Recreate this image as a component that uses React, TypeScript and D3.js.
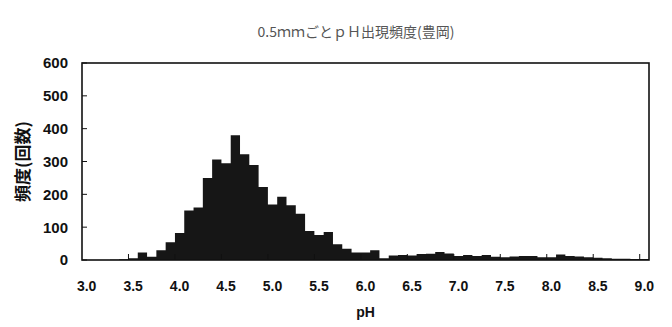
import * as d3 from 'd3'

// pH bins (0.1 step) and counts
const phBins = [
  '3.0', '3.1', '3.2', '3.3', '3.4', '3.5', '3.6', '3.7', '3.8', '3.9',
  '4.0', '4.1', '4.2', '4.3', '4.4', '4.5', '4.6', '4.7', '4.8', '4.9',
  '5.0', '5.1', '5.2', '5.3', '5.4', '5.5', '5.6', '5.7', '5.8', '5.9',
  '6.0', '6.1', '6.2', '6.3', '6.4', '6.5', '6.6', '6.7', '6.8', '6.9',
  '7.0', '7.1', '7.2', '7.3', '7.4', '7.5', '7.6', '7.7', '7.8', '7.9',
  '8.0', '8.1', '8.2', '8.3', '8.4', '8.5', '8.6', '8.7', '8.8', '8.9',
  '9.0'
]
const counts = [
  0, 0, 0, 1, 2, 5, 23, 10, 30, 54,
  82, 151, 160, 250, 306, 295, 380, 322, 289, 222,
  169, 193, 167, 141, 88, 76, 85, 48, 34, 23,
  23, 30, 5, 14, 15, 14, 18, 19, 24, 20,
  12, 15, 12, 15, 10, 8, 11, 12, 12, 8,
  8, 17, 12, 11, 8, 7, 5, 4, 4, 3,
  3
]
const xLabels = ['3.0', '3.5', '4.0', '4.5', '5.0', '5.5', '6.0', '6.5', '7.0', '7.5', '8.0', '8.5', '9.0']
const yTicks = [0, 100, 200, 300, 400, 500, 600]

const title = '0.5ｍｍごとｐＨ出現頻度(豊岡)'
const yTitle = '頻度(回数)'
const xTitle = 'pH'

export default function App() {
  const width = 672
  const height = 327
  const left = 82, right = 649, top = 63, bottom = 260

  const x = d3.scaleBand<string>().domain(phBins).range([left, right]).paddingInner(0).paddingOuter(0)
  const y = d3.scaleLinear().domain([0, 600]).range([bottom, top])
  const numFont = '"Liberation Sans", Arial, sans-serif'

  // one step outline for all bars, so no seams between neighbours
  const bw = x.bandwidth()
  const stepPts: [number, number][] = []
  phBins.forEach((b, i) => {
    stepPts.push([x(b)!, y(counts[i])])
    stepPts.push([x(b)! + bw, y(counts[i])])
  })
  const area = d3.area<[number, number]>().x(d => d[0]).y0(bottom).y1(d => d[1])

  return (
    <svg width={width} height={height} style={{ position: 'absolute', left: 0, top: 0, background: '#fff' }}>
      <rect width={width} height={height} fill="#fff" />
      <text x={356} y={37} textAnchor="middle" fontSize={14} fill="#555"
        fontFamily='"Noto Sans CJK JP", sans-serif'>{title}</text>

      {/* bars */}
      <path d={area(stepPts) ?? ''} fill="#161616" />

      {/* frame */}
      <rect x={left} y={top} width={right - left} height={bottom - top}
        fill="none" stroke="#111" strokeWidth={1.6} />

      {/* y ticks + labels */}
      {yTicks.map(t => (
        <g key={t}>
          <line x1={left} x2={left + 5} y1={y(t)} y2={y(t)} stroke="#111" strokeWidth={1} />
          <text x={68} y={y(t)} dy="0.36em" textAnchor="end" fontSize={15} fontWeight="bold"
            fontFamily={numFont} fill="#111">{t}</text>
        </g>
      ))}

      {/* x ticks + labels */}
      {phBins.map((b, i) => (
        i % 5 === 0 && i > 0 ? (
          <line key={'t' + b} x1={x(b)!} x2={x(b)!} y1={bottom} y2={bottom - 6} stroke="#111" strokeWidth={1} />
        ) : null
      ))}
      {xLabels.map(l => (
        <text key={l} x={x(l)! + bw / 2} y={291} textAnchor="middle" fontSize={14} fontWeight="bold"
          fontFamily={numFont} fill="#111">{l}</text>
      ))}

      <text x={(left + right) / 2} y={317} textAnchor="middle" fontSize={14} fontWeight="bold"
        fontFamily={numFont} fill="#111">{xTitle}</text>
      <text transform={`translate(29,${(top + bottom) / 2}) rotate(-90)`} textAnchor="middle" fontSize={17}
        fontWeight="bold" fontFamily='"Noto Sans CJK JP", sans-serif' fill="#111">{yTitle}</text>
    </svg>
  )
}
